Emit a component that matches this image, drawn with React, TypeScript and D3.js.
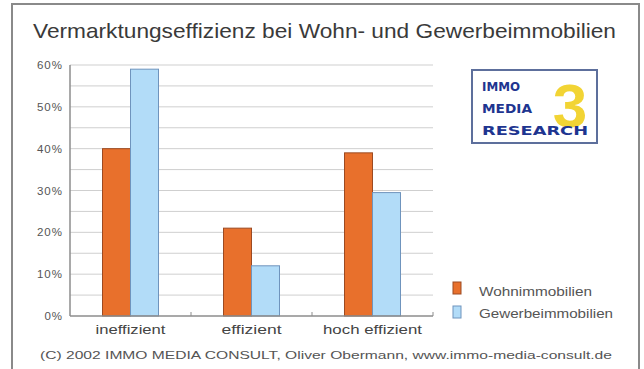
import React from "react";
import * as d3 from "d3";

const categories = ["ineffizient", "effizient", "hoch effizient"];
const seriesNames = ["Wohnimmobilien", "Gewerbeimmobilien"];
const wohnValues = [40, 21, 39];
const gewerbeValues = [59, 12, 29.5];
const yTicks = [0, 10, 20, 30, 40, 50, 60];
const gridValues = [5, 10, 15, 20, 25, 30, 35, 40, 45, 50, 55, 60];
const categoryLabelWidths = [70, 60, 99];
const titleText = "Vermarktungseffizienz bei Wohn- und Gewerbeimmobilien";
const footerText = "(C) 2002 IMMO MEDIA CONSULT, Oliver Obermann,  www.immo-media-consult.de";

const FONT = "'Liberation Sans', Arial, sans-serif";
const fills = ["#e8702c", "#b2dcf8"];
const strokes = ["#9c4a22", "#6f94bd"];

export default function App() {
  const left = 70, right = 433, top = 65, bottom = 316;
  const x0 = d3.scaleBand<string>().domain(categories).range([left, right]).padding(0);
  const bw = x0.bandwidth();
  const barW = 28;
  const x1 = d3.scaleBand<string>().domain(seriesNames)
    .range([bw / 2 - barW, bw / 2 + barW]).padding(0);
  const y = d3.scaleLinear().domain([0, 60]).range([bottom, top]);
  const series = [wohnValues, gewerbeValues];

  return (
    <svg width={644} height={369} style={{ position: "absolute", left: 0, top: 0, background: "#fff" }}>
      <rect x={0} y={0} width={644} height={369} fill="#fff" />
      <rect x={12} y={4} width={627} height={380} fill="#fff" stroke="#8a8a8a" strokeWidth={2} />
      <text x={33} y={38} fontFamily={FONT} fontSize={21} fill="#3a3a3a"
        textLength={583} lengthAdjust="spacingAndGlyphs">{titleText}</text>

      {gridValues.map((v) => (
        <line key={v} x1={left} x2={right} y1={y(v)} y2={y(v)} stroke="#cfcfcf" strokeWidth={1} />
      ))}

      {categories.map((c, ci) =>
        series.map((vals, si) => (
          <rect key={c + si}
            x={(x0(c) as number) + (x1(seriesNames[si]) as number)}
            y={y(vals[ci])}
            width={x1.bandwidth()}
            height={y(0) - y(vals[ci])}
            fill={fills[si]} stroke={strokes[si]} strokeWidth={1} />
        ))
      )}

      <line x1={left} x2={left} y1={top} y2={bottom} stroke="#8c8c8c" strokeWidth={1.5} />
      <line x1={left} x2={right} y1={bottom} y2={bottom} stroke="#8c8c8c" strokeWidth={1.5} />
      {categories.slice(1).map((c) => (
        <line key={c} x1={x0(c)} x2={x0(c)} y1={bottom - 4} y2={bottom} stroke="#8c8c8c" />
      ))}
      <line x1={right} x2={right} y1={bottom - 4} y2={bottom} stroke="#8c8c8c" />

      {yTicks.map((t) => (
        <text key={t} x={63} y={y(t) + 4} textAnchor="end" fontFamily={FONT} fontSize={11.5}
          fill="#555" letterSpacing={1}>{t + "%"}</text>
      ))}

      {categories.map((c, i) => (
        <text key={c} x={(x0(c) as number) + bw / 2 - categoryLabelWidths[i] / 2} y={334}
          fontFamily={FONT} fontSize={13.5} fill="#444"
          textLength={categoryLabelWidths[i]} lengthAdjust="spacingAndGlyphs">{c}</text>
      ))}

      {/* Legend */}
      {seriesNames.map((s, i) => (
        <g key={s}>
          <rect x={453} y={282 + i * 24} width={8} height={12} fill={fills[i]} stroke={strokes[i]} />
          <text x={479} y={296 + i * 22} fontFamily={FONT} fontSize={12} fill="#555"
            textLength={i === 0 ? 113 : 134} lengthAdjust="spacingAndGlyphs">{s}</text>
        </g>
      ))}

      {/* Logo */}
      <rect x={472} y={70} width={125} height={73} fill="#fff" stroke="#5d6f9c" strokeWidth={2} />
      <text x={570} y={127} textAnchor="middle" fontFamily={FONT} fontWeight="bold" fontSize={62}
        fill="#f2d434">3</text>
      <text x={482} y={91} fontFamily="'DejaVu Sans', sans-serif" fontWeight="bold" fontSize={13}
        fill="#1e3590" textLength={38} lengthAdjust="spacingAndGlyphs">IMMO</text>
      <text x={482} y={113} fontFamily="'DejaVu Sans', sans-serif" fontWeight="bold" fontSize={13}
        fill="#1e3590" textLength={50} lengthAdjust="spacingAndGlyphs">MEDIA</text>
      <text x={482} y={135} fontFamily="'DejaVu Sans', sans-serif" fontWeight="bold" fontSize={13}
        fill="#1e3590" textLength={106} lengthAdjust="spacingAndGlyphs">RESEARCH</text>

      <text x={40} y={359} fontFamily={FONT} fontSize={11.5} fill="#555"
        textLength={572} lengthAdjust="spacingAndGlyphs">{footerText}</text>
    </svg>
  );
}
